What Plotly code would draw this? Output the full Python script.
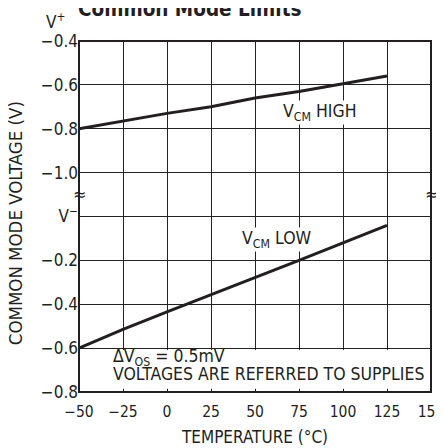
import plotly.graph_objects as go
from plotly.subplots import make_subplots

# ---- data ----
temperature = [-50, -25, 0, 25, 50, 75, 100, 125]
vcm_high = [-0.80, -0.765, -0.73, -0.70, -0.66, -0.63, -0.595, -0.56]   # relative to V+
vcm_low = [-0.60, -0.515, -0.435, -0.357, -0.28, -0.20, -0.12, -0.04]   # relative to V-

x_ticks = [-50, -25, 0, 25, 50, 75, 100, 125, 150]
top_ticks = [-0.4, -0.6, -0.8, -1.0]
top_ticktext = ["−0.4", "−0.6", "−0.8", "−1.0"]
bot_ticks = [0, -0.2, -0.4, -0.6, -0.8]
bot_ticktext = ["V<sup>−</sup>", "−0.2", "−0.4", "−0.6", "−0.8"]

FONT = "DejaVu Sans Condensed, Roboto, sans-serif"
INK = "#231f20"

fig = make_subplots(rows=2, cols=1, shared_xaxes=True, vertical_spacing=0,
                    row_heights=[3.5, 4.5])

fig.add_trace(go.Scatter(x=temperature, y=vcm_high, mode="lines",
                         line=dict(color=INK, width=3), showlegend=False), row=1, col=1)
fig.add_trace(go.Scatter(x=temperature, y=vcm_low, mode="lines",
                         line=dict(color=INK, width=3), showlegend=False), row=2, col=1)

grid = dict(showgrid=True, gridcolor="#222", gridwidth=1, zeroline=False,
            showline=False, ticks="", automargin=False)
tick_font = dict(family=FONT, size=17, color=INK)
fig.update_xaxes(range=[-50, 150], tickvals=x_ticks, **grid)
fig.update_xaxes(showticklabels=False, row=1, col=1)
fig.update_xaxes(showticklabels=True, row=2, col=1, ticklabeloverflow="allow",
                 tickfont=dict(family=FONT, size=15.5, color=INK), ticklabelstandoff=8,
                 title=dict(text="TEMPERATURE (°C)", font=dict(family=FONT, size=17, color=INK),
                            standoff=11))
fig.update_yaxes(range=[-1.1, -0.4], tickvals=top_ticks, ticktext=top_ticktext,
                 tickfont=tick_font, row=1, col=1, **grid)
fig.update_yaxes(range=[-0.8, 0.1], tickvals=bot_ticks, ticktext=bot_ticktext,
                 tickfont=tick_font, row=2, col=1, **grid)

# white box behind the note
fig.add_shape(type="rect", xref="paper", yref="paper", x0=0.082, x1=0.991, y0=0.009, y1=0.12,
              fillcolor="white", line=dict(width=0), layer="above")
# frame
fig.add_shape(type="rect", xref="paper", yref="paper", x0=0, x1=1, y0=0, y1=1,
              line=dict(color=INK, width=2), layer="above")

ann_font = dict(family=FONT, size=17.5, color=INK)
fig.add_annotation(x=87, y=-0.727, xref="x", yref="y", text="V<sub>CM</sub> HIGH",
                   showarrow=False, font=ann_font, bgcolor="white", borderpad=0)
fig.add_annotation(x=62.5, y=-0.106, xref="x2", yref="y2", text="V<sub>CM</sub> LOW",
                   showarrow=False, font=ann_font, bgcolor="white", borderpad=0)
fig.add_annotation(x=0.09, y=0.0997, xref="paper", yref="paper", xanchor="left", yanchor="middle",
                   align="left", showarrow=False, font=ann_font,
                   text="ΔV<sub>OS</sub> = 0.5mV")
fig.add_annotation(x=0.09, y=0.0513, xref="paper", yref="paper", xanchor="left", yanchor="middle",
                   align="left", showarrow=False, font=ann_font,
                   text="VOLTAGES ARE REFERRED TO SUPPLIES")
# axis breaks
for xp in (0, 1):
    fig.add_annotation(x=xp, y=0.562, xref="paper", yref="paper", xanchor="center",
                       text="≈", showarrow=False,
                       font=dict(family="DejaVu Sans", size=16, color=INK))
# V+ label
fig.add_annotation(x=-0.068, y=1.058, xref="paper", yref="paper", xanchor="center",
                   yanchor="middle", text="V<sup>+</sup>",
                   showarrow=False, font=dict(family=FONT, size=17, color=INK))
# y title
fig.add_annotation(x=-0.18, y=0.48, xref="paper", yref="paper", textangle=-90,
                   xanchor="center", yanchor="middle",
                   text="COMMON MODE VOLTAGE (V)", showarrow=False,
                   font=dict(family=FONT, size=18.5, color=INK))
# cut-off title
fig.add_annotation(x=0.315, y=1.0516, xref="paper", yref="paper", xanchor="center",
                   yanchor="bottom",
                   text="<b>Common Mode Limits</b>", showarrow=False,
                   font=dict(family=FONT, size=20.5, color=INK))

fig.update_layout(width=436, height=440, margin=dict(l=71, r=13, t=33, b=56),
                  plot_bgcolor="white", paper_bgcolor="white")

fig.write_html("out.html")
